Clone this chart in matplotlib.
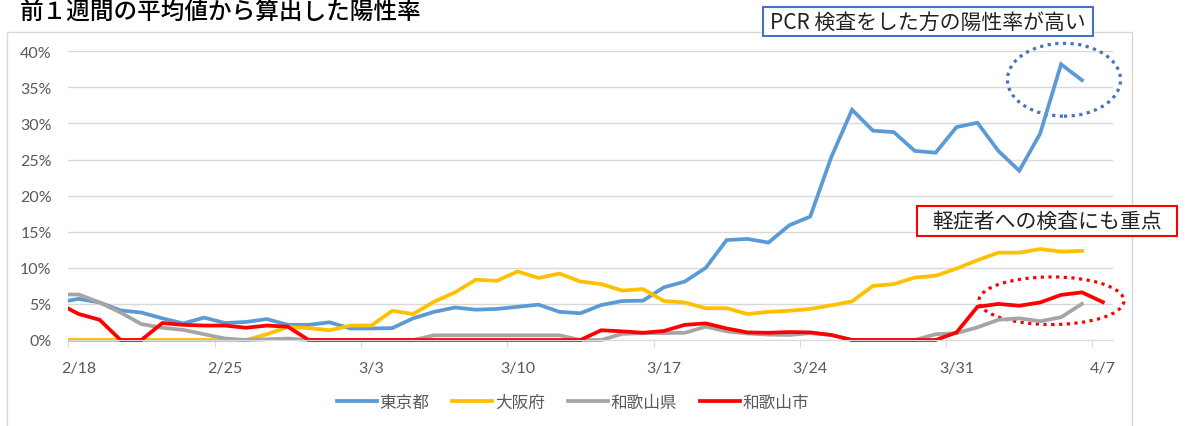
import matplotlib.pyplot as plt
import numpy as np
from matplotlib.patches import Rectangle, Ellipse

plt.rcParams['font.family'] = ['Noto Sans CJK JP', 'DejaVu Sans']

# daily values (%), first value is 2/17
start = np.datetime64('2020-02-17')
origin = np.datetime64('2020-02-18')

tokyo = [5.2, 5.7, 5.2, 4.1, 3.8, 3.0, 2.3, 3.1, 2.35, 2.5, 2.9, 2.1, 2.1, 2.45, 1.6, 1.6, 1.65,
         3.0, 3.9, 4.5, 4.2, 4.3, 4.6, 4.9, 3.9, 3.7, 4.85, 5.4, 5.45, 7.3, 8.1, 10.0, 13.85,
         14.0, 13.5, 15.9, 17.1, 25.3, 31.9, 29.0, 28.8, 26.2, 25.95, 29.5, 30.1, 26.2, 23.45,
         28.6, 38.2, 36.0]
osaka = [0, 0, 0, 0, 0, 0, 0, 0, 0, 0, 0.8, 1.8, 1.65, 1.35, 2.0, 2.0, 4.05,
         3.6, 5.3, 6.6, 8.35, 8.2, 9.5, 8.6, 9.2, 8.1, 7.75, 6.85, 7.05, 5.4, 5.2, 4.4, 4.4,
         3.6, 3.9, 4.05, 4.3, 4.8, 5.35, 7.5, 7.75, 8.65, 8.9, 9.9, 11.05, 12.1, 12.1,
         12.6, 12.25, 12.35]
wk_pref = [6.3, 6.3, 5.2, 3.8, 2.2, 1.7, 1.4, 0.8, 0.2, 0, 0.1, 0.2, 0, 0, 0, 0, 0,
           0, 0.65, 0.65, 0.65, 0.65, 0.65, 0.65, 0.65, 0, 0, 0.85, 0.95, 0.95, 1.0, 1.85, 1.2,
           0.9, 0.75, 0.7, 0.95, 0.7, 0, 0, 0, 0, 0.8, 0.95, 1.75, 2.8, 3.0,
           2.6, 3.15, 5.0]
wk_city = [5.1, 3.6, 2.8, 0, 0, 2.35, 2.1, 2.0, 2.0, 1.7, 2.0, 1.85, 0, 0, 0, 0, 0,
           0, 0, 0, 0, 0, 0, 0, 0, 0, 1.35, 1.2, 1.0, 1.25, 2.1, 2.3, 1.6,
           1.05, 1.0, 1.1, 1.05, 0.7, 0, 0, 0, 0, 0, 1.05, 4.6, 5.0, 4.75,
           5.2, 6.25, 6.6, 5.25]

series = [("東京都", tokyo, "#5B9BD5"), ("大阪府", osaka, "#FFC000"),
          ("和歌山県", wk_pref, "#A5A5A5"), ("和歌山市", wk_city, "#FF0000")]

tick_dates = ['2020-02-18', '2020-02-25', '2020-03-03', '2020-03-10',
              '2020-03-17', '2020-03-24', '2020-03-31', '2020-04-07']
tick_labels = ['2/18', '2/25', '3/3', '3/10', '3/17', '3/24', '3/31', '4/7']

W, H = 1186, 427
fig = plt.figure(figsize=(W / 100, H / 100), dpi=100)


def fx(x):
    return x / W


def fy(y):
    return 1 - y / H


ax = fig.add_axes([fx(68.3), fy(341), fx(1113.3) - fx(68.3), fy(52.3) - fy(341)])

clip = Rectangle((0, -0.05), 1, 1.1, transform=ax.transAxes, facecolor='none', edgecolor='none')
ax.add_patch(clip)
handles = []
for name, vals, col in series:
    days = (start + np.arange(len(vals)) - origin).astype(int) + 0.5
    ln, = ax.plot(days, vals, color=col, lw=2.7, label=name, solid_joinstyle='miter')
    ln.set_clip_path(clip)
    handles.append(ln)

ax.set_xlim(0, 50)
ax.set_ylim(0, 40)
ax.set_yticks(np.arange(0, 41, 5))
ax.set_yticklabels([f"{v}%" for v in range(0, 41, 5)], family=['Lato', 'DejaVu Sans'],
                   fontsize=11.5, color='#595959')
ax.tick_params(axis='y', length=0, pad=12)
ax.grid(axis='y', color='#D9D9D9', lw=1)
ax.set_axisbelow(True)

tick_pos = [(np.datetime64(d) - origin).astype(int) for d in tick_dates]
ax.set_xticks(tick_pos)
ax.set_xticklabels([])
ax.tick_params(axis='x', which='major', length=5, color='#D9D9D9', direction='out')
ax.set_xticks([p + 0.5 for p in tick_pos], minor=True)
ax.set_xticklabels(tick_labels, minor=True, family=['Lato', 'DejaVu Sans'],
                   fontsize=11.5, color='#595959')
ax.tick_params(axis='x', which='minor', length=0, pad=15)

for s in ['top', 'right', 'left']:
    ax.spines[s].set_visible(False)
ax.spines['bottom'].set_color('#D9D9D9')

# dotted ellipses
ax.add_patch(Ellipse((47.64, 36.06), 5.41, 10.1, fill=False, edgecolor='#4472C4',
                     lw=2.3, ls=(0, (1, 1.4)), clip_on=False))
ax.add_patch(Ellipse((47.04, 5.44), 6.94, 6.6, fill=False, edgecolor='#FF0000',
                     lw=2.3, ls=(0, (1, 1.4)), clip_on=False))

# chart border
fig.patches.append(Rectangle((fx(7), fy(440)), fx(1132) - fx(7), fy(33) - fy(440),
                             transform=fig.transFigure, fill=False, edgecolor='#D9D9D9', lw=1))

fig.text(fx(20), fy(12), "前１週間の平均値から算出した陽性率", fontsize=17, color='black',
         va='center', ha='left', weight='medium')

# note boxes
fig.patches.append(Rectangle((fx(763), fy(37)), fx(1093) - fx(763), fy(8) - fy(37),
                             transform=fig.transFigure, facecolor='white', edgecolor='#4472C4', lw=1.5))
fig.text(fx(928), fy(22.5), "PCR 検査をした方の陽性率が高い", fontsize=15, ha='center', va='center',
         color='#222222')
fig.patches.append(Rectangle((fx(917), fy(237)), fx(1177) - fx(917), fy(207) - fy(237),
                             transform=fig.transFigure, facecolor='white', edgecolor='#FF0000', lw=1.5))
fig.text(fx(1047), fy(222), "軽症者への検査にも重点", fontsize=15, ha='center', va='center',
         color='#222222')

fig.legend(handles=handles, loc='center', bbox_to_anchor=(fx(573), fy(403)), ncol=4,
           frameon=False, fontsize=12, handlelength=2.4, handletextpad=0.15,
           columnspacing=1.4, labelcolor='#595959')

fig.savefig('out.png', dpi=100)
